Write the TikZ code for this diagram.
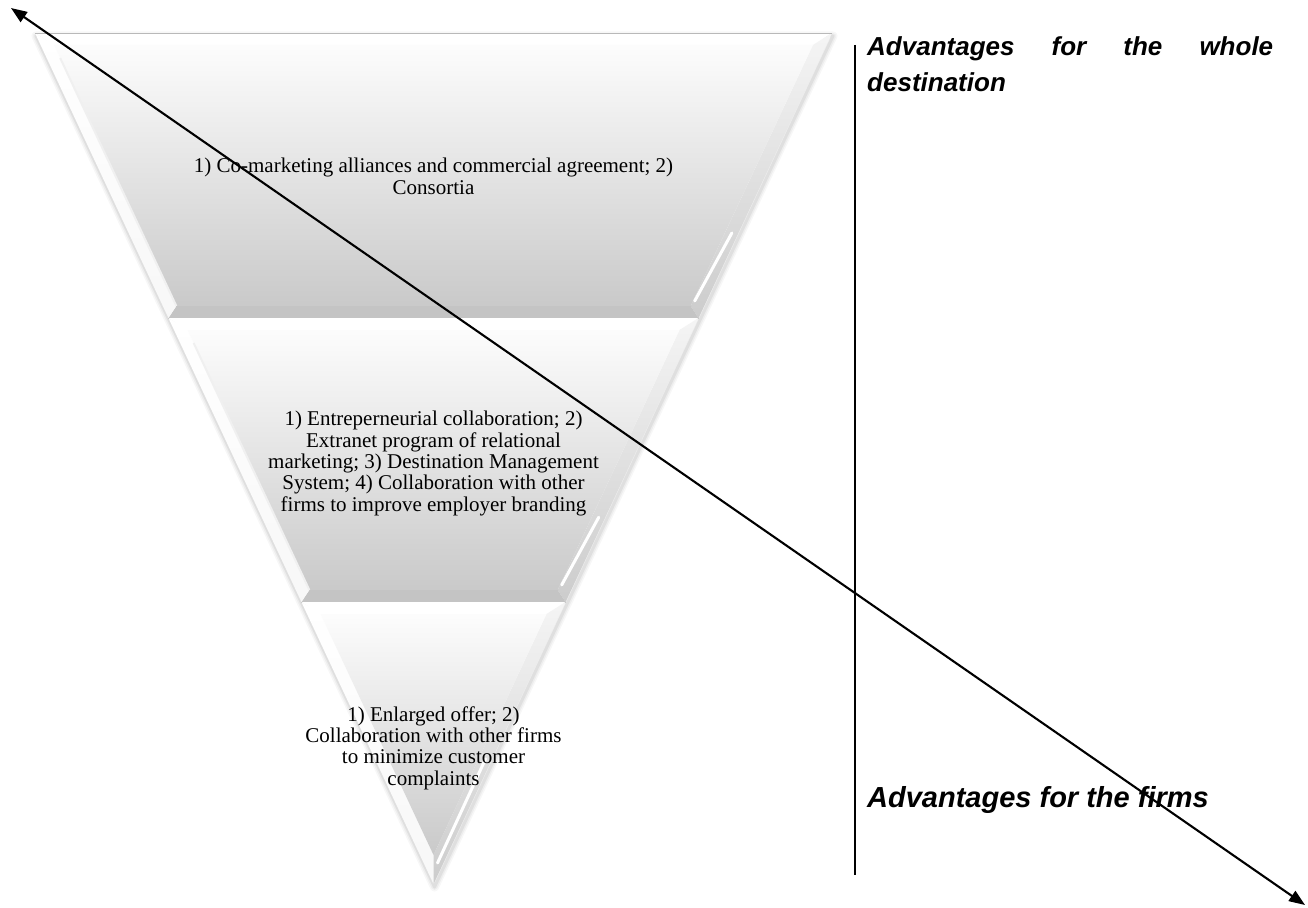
\documentclass[tikz,border=0pt]{standalone}
\usepackage{fontspec}
\setmainfont{Liberation Serif}
\newfontfamily\arialf{Liberation Sans}
\usetikzlibrary{arrows.meta,calc}
\newcommand\bandpoly[3]{%
  \pgfmathsetmacro\hwa{0.46827*(884-#1)}%
  \pgfmathsetmacro\hwb{0.46827*(884-#2)}%
  \pgfmathsetmacro\hwc{0.46827*(884-#1-12)-13.5}%
  \pgfmathsetmacro\hwd{0.46827*(884-#2+12)-13.5}%
  \pgfmathsetmacro\yc{#1+12}%
  \pgfmathsetmacro\yd{#2-12}%
  \coordinate (#3otl) at ({433.5-\hwa},#1);
  \coordinate (#3otr) at ({433.5+\hwa},#1);
  \coordinate (#3obl) at ({433.5-\hwb},#2);
  \coordinate (#3obr) at ({433.5+\hwb},#2);
  \coordinate (#3itl) at ({433.5-\hwc},\yc);
  \coordinate (#3itr) at ({433.5+\hwc},\yc);
  \coordinate (#3ibl) at ({433.5-\hwd},\yd);
  \coordinate (#3ibr) at ({433.5+\hwd},\yd);
}
\begin{document}
\begin{tikzpicture}[x=1pt,y=-1pt,
  face/.style={top color=gray!2, bottom color=gray!42},
  bevtop/.style={fill=white},
  bevleft/.style={top color=white, bottom color=gray!6},
  bevright/.style={top color=gray!8, bottom color=gray!40},
  bevbot/.style={fill=gray!46},
  hilite/.style={draw=white, line width=3, line cap=round},
  edgeline/.style={draw=gray!70, line width=0.9},
  bandtext/.style={font=\fontsize{21}{21.3}\selectfont, align=center, inner sep=0, anchor=base},
  sidetop/.style={font=\arialf\bfseries\itshape\fontsize{26}{36}\selectfont, inner sep=0, anchor=base west, align=left},
  sidebot/.style={font=\arialf\bfseries\itshape\fontsize{29}{34}\selectfont, inner sep=0, anchor=base west},
  axisline/.style={line width=1.6},
  bigarrow/.style={line width=2.1, {Triangle[length=16pt,width=12pt]}-{Triangle[length=16pt,width=12pt]}}
]
\useasboundingbox (0,0) rectangle (1308,907);

% geometry
\bandpoly{33}{318}{A}
\bandpoly{318}{602}{B}
\pgfmathsetmacro\hwt{0.46827*(884-602)}
\pgfmathsetmacro\hwi{0.46827*(884-614)-13.5}
\coordinate (Cotl) at ({433.5-\hwt},602);
\coordinate (Cotr) at ({433.5+\hwt},602);
\coordinate (Capex) at (433.5,884);
\coordinate (Citl) at ({433.5-\hwi},614);
\coordinate (Citr) at ({433.5+\hwi},614);
\coordinate (Ciapex) at (433.5,855);

% soft shadow
\foreach \w/\o in {9/0.03,6/0.04,3/0.06}
  \draw[line width=\w, opacity=\o, line join=round]
    ($(Aotl)+(1,3)$) -- ($(Aotr)+(1,3)$) -- ($(Capex)+(1,3)$) -- cycle;

% bands A and B
\foreach \p in {A,B}{
  \fill[bevtop] (\p otl) -- (\p otr) -- (\p itr) -- (\p itl) -- cycle;
  \shade[bevright] (\p otr) -- (\p obr) -- (\p ibr) -- (\p itr) -- cycle;
  \fill[bevbot] (\p obr) -- (\p obl) -- (\p ibl) -- (\p ibr) -- cycle;
  \shade[bevleft] (\p obl) -- (\p otl) -- (\p itl) -- (\p ibl) -- cycle;
  \shade[face] (\p itl) -- (\p itr) -- (\p ibr) -- (\p ibl) -- cycle;
  \draw[hilite] ($(\p itr)!0.72!(\p ibr)+(7,0)$) -- ($(\p ibr)+(4,-5)$);
  \draw[edgeline] (\p obl) -- (\p obr);
  \draw[draw=gray!12, line width=2] ($(\p itl)!0.05!(\p ibl)$) -- (\p ibl);
}
% band C
\fill[bevtop] (Cotl) -- (Cotr) -- (Citr) -- (Citl) -- cycle;
\shade[bevright] (Cotr) -- (Capex) -- (Ciapex) -- (Citr) -- cycle;
\shade[bevleft] (Capex) -- (Cotl) -- (Citl) -- (Ciapex) -- cycle;
\shade[face] (Citl) -- (Citr) -- (Ciapex) -- cycle;
\draw[hilite] ($(Citr)!0.6!(Ciapex)+(7,0)$) -- ($(Ciapex)+(4,8)$);
\draw[draw=gray!55, line width=0.8] (Aotl) -- (Aotr);

% band texts
\node[bandtext] (tA) at (433.5,194) {1) Co-marketing alliances and commercial agreement; 2)\\Consortia};
\node[bandtext] (tB) at (433.5,511) {1) Entreperneurial collaboration; 2)\\Extranet program of relational\\marketing; 3) Destination Management\\System; 4) Collaboration with other\\firms to improve employer branding};
\node[bandtext] (tC) at (433.5,785) {1) Enlarged offer; 2)\\Collaboration with other firms\\to minimize customer\\complaints};

% right side
\coordinate (vt) at (855,45);
\coordinate (vb) at (855,875);
\draw[axisline] (vt) -- (vb);
\node[sidetop] (rt) at (867,92) {\makebox[406pt][s]{Advantages for the whole}\\destination};
\node[sidebot] (rb) at (867,807) {Advantages for the firms};

% diagonal arrow
\coordinate (aA) at (11,8);
\coordinate (aB) at (1305,905);
\draw[bigarrow] (aA) -- (aB);
\end{tikzpicture}
\end{document}
